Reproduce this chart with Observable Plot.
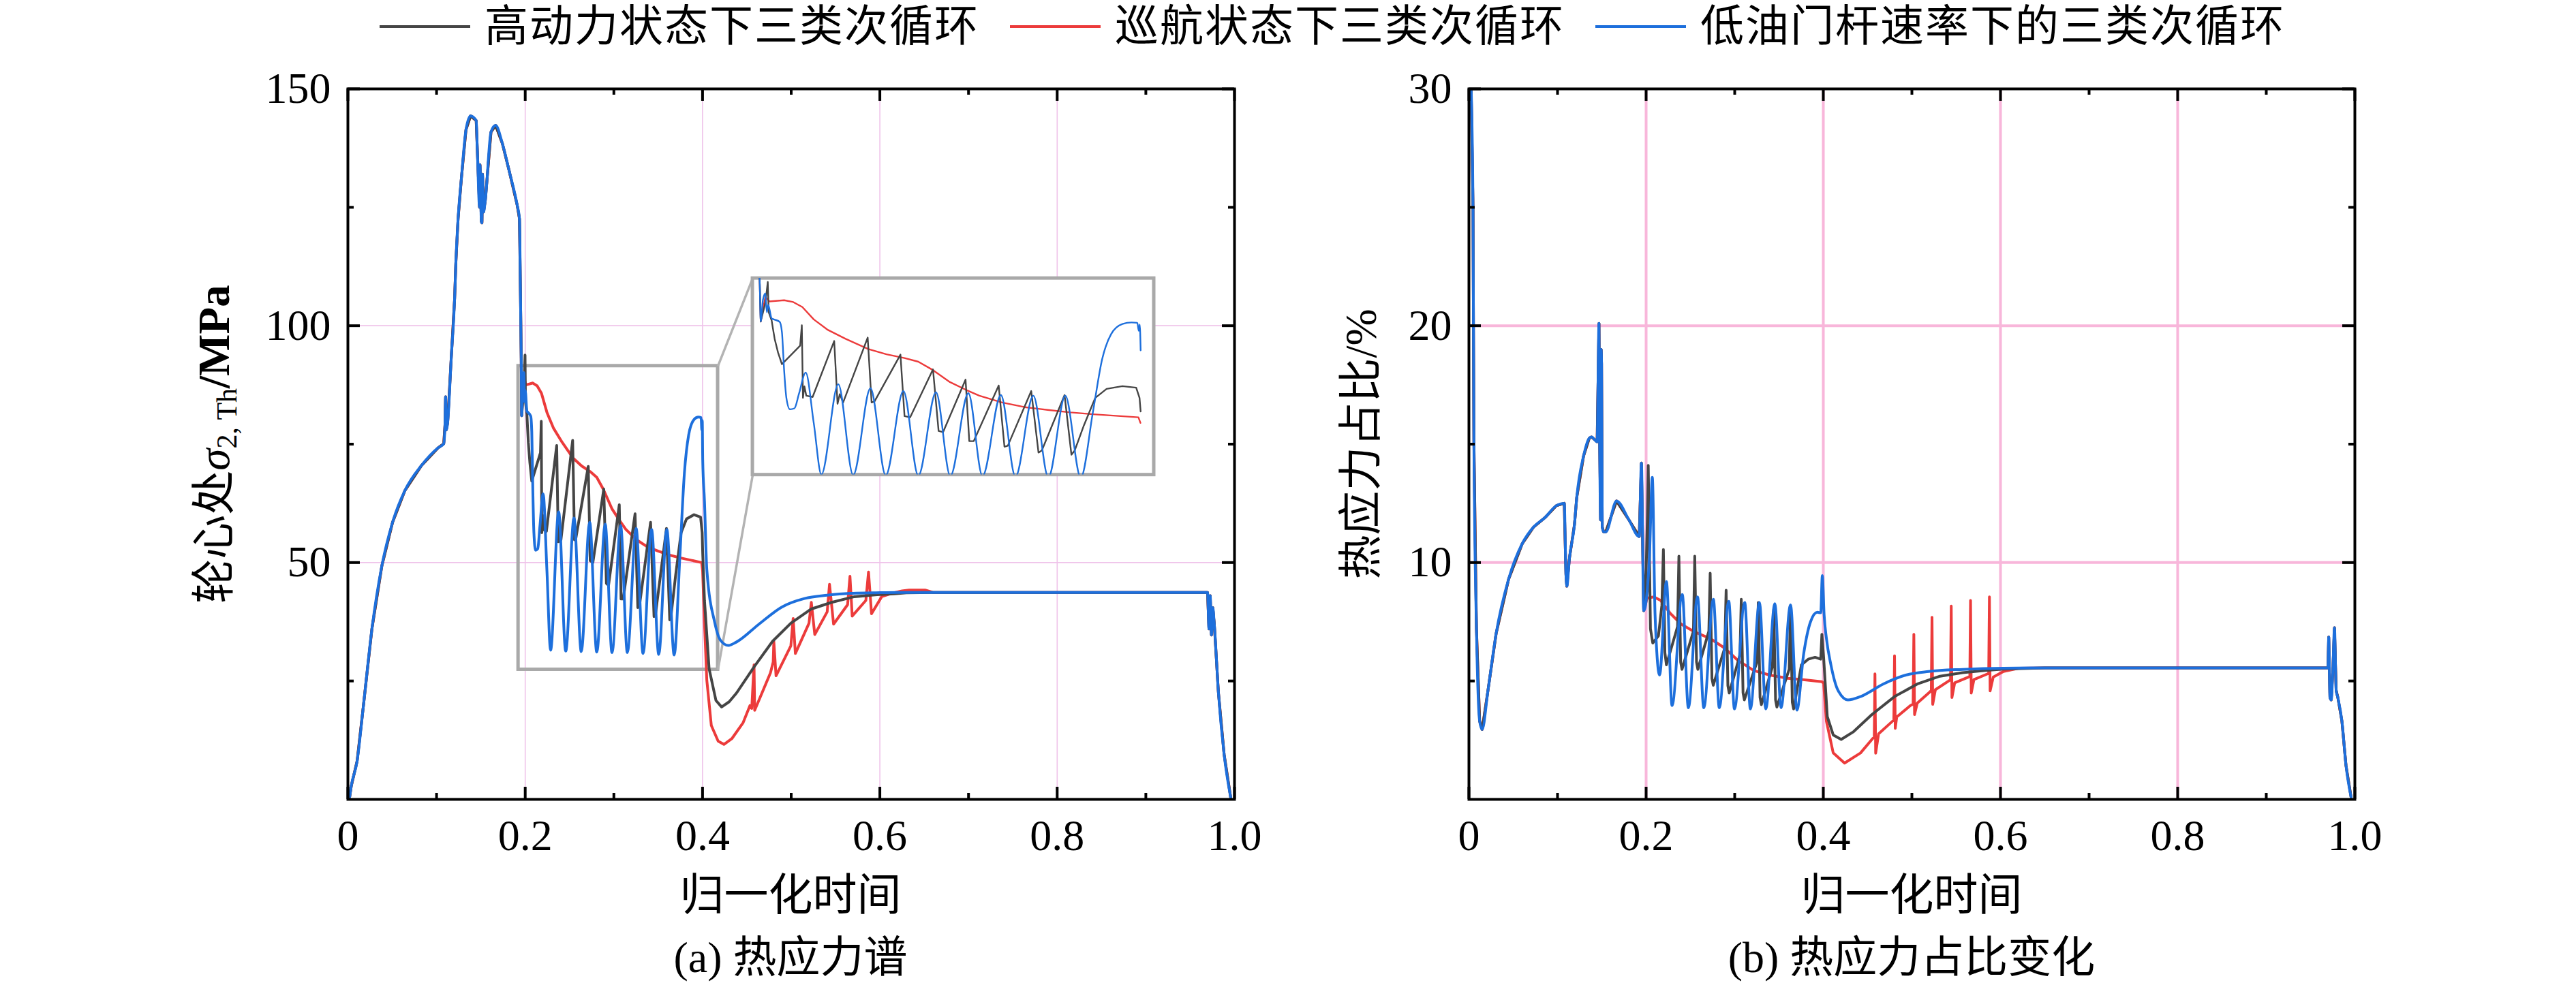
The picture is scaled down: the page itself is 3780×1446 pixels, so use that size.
<!DOCTYPE html>
<html>
<head>
<meta charset="utf-8">
<script src="https://cdn.jsdelivr.net/npm/d3@7"></script>
<script src="https://cdn.jsdelivr.net/npm/@observablehq/plot@0.6"></script>
<style>
html,body{margin:0;padding:0;background:#fff;}
#root{position:relative;width:3780px;height:1446px;overflow:hidden;background:#fff;font-family:"Liberation Serif","Noto Sans CJK SC",serif;color:#000;}
.abs{position:absolute;white-space:nowrap;line-height:1;}
.ctr{transform:translate(-50%,-50%);}
.rot{transform:translate(-50%,-50%) rotate(-90deg);}
</style>
</head>
<body>
<div id="root"></div>
<script>
// ---------------- data ----------------
const seriesNames = ["高动力状态下三类次循环", "巡航状态下三类次循环", "低油门杆速率下的三类次循环"];
const seriesColors = ["#454545", "#ec3b3b", "#1d6fdc"];

const xMajor = [0, 0.2, 0.4, 0.6, 0.8, 1.0];
const xMinor = [0.1, 0.3, 0.5, 0.7, 0.9];
const xGrid = [0.2, 0.4, 0.6, 0.8];

const stressTicks = [50, 100, 150];
const stressMinor = [25, 75, 125];
const stressGrid = [50, 100];
const ratioTicks = [10, 20, 30];
const ratioMinor = [5, 15, 25];
const ratioGrid = [10, 20];

// (a) thermal stress, MPa — common start and end (all three curves coincide)
const stressShared = [[0.002,0.5],[0.0038,2.8],[0.0104,8.1],[0.0177,20.1],[0.0271,36.0],[0.0383,49.3],[0.0504,58.5],[0.0643,65.2],[0.083,70.5],[0.1016,74.2],[0.1081,75.1],[0.1095,79],[0.1102,85],[0.1109,78],[0.1125,79.5],[0.1165,93],[0.1204,105.8],[0.1217,113.0],[0.1243,122.6],[0.1281,131.3],[0.1332,141.4],[0.1384,144.3],[0.1447,143.3],[0.146,137],[0.1485,125],[0.149,134],[0.1505,122],[0.1512,121.7],[0.1518,132],[0.153,124],[0.155,126.5],[0.1614,140.9],[0.1666,142.3],[0.1742,138.5],[0.1819,132.7],[0.1909,125.5],[0.1935,122.6],[0.1947,105.8]];
const stressTail = [[0.66,43.7],[0.9696,43.7],[0.9712,36],[0.9726,43],[0.974,34.7],[0.9755,40.5],[0.9772,37],[0.9818,22.7],[0.9883,9.5],[0.9957,0.4]];

const stressHigh = [[0.1955,93],[0.196,81],[0.1985,87],[0.1998,93.8],[0.2003,84],[0.2019,81.3],[0.2025,79],[0.2035,75.4],[0.2053,71.0],[0.2074,67.2],[0.2172,73.2],[0.2181,79.8],[0.2187,56.3],[0.2195,60],[0.2205,57],[0.2239,56.6],[0.2355,74.7],[0.2373,54.4],[0.2385,57.5],[0.2403,54.8],[0.2535,75.8],[0.2556,54.8],[0.2572,55.2],[0.2711,70.3],[0.2733,50.4],[0.2763,50.0],[0.2886,65.5],[0.2916,45.6],[0.294,45.2],[0.3061,62.2],[0.3081,42.3],[0.3105,42.3],[0.3239,60.3],[0.3270,40.5],[0.3288,40.8],[0.3414,58.5],[0.3453,38.6],[0.3471,39.3],[0.3593,57.2],[0.3630,37.9],[0.3648,39.3],[0.3697,47.4],[0.3758,56.3],[0.3819,59.2],[0.3904,60.1],[0.3978,59.6],[0.3996,56.3],[0.4002,51.9],[0.4022,42.0],[0.4074,27.6],[0.4151,20.9],[0.4215,19.5],[0.4300,20.6],[0.4381,22.4],[0.4586,28.1],[0.4791,33.4],[0.4996,37.2],[0.5227,40.2],[0.5457,41.6],[0.5713,42.8],[0.597,43.2],[0.6162,43.4],[0.63,43.6]];

const stressCruise = [[0.1955,93],[0.196,81],[0.1985,89],[0.2007,87.5],[0.2086,87.9],[0.2135,87.3],[0.2184,85.7],[0.2245,81.7],[0.2318,78.4],[0.2416,75.4],[0.2538,72.1],[0.2636,70.4],[0.2733,69.2],[0.2807,68.0],[0.2880,65.5],[0.2977,61.4],[0.3063,58.9],[0.3135,57.0],[0.3257,54.8],[0.3379,53.3],[0.3502,52.4],[0.3624,51.6],[0.3746,51.0],[0.3868,50.5],[0.3990,50.0],[0.4001,48.2],[0.4022,37.2],[0.4048,25.2],[0.4099,15.6],[0.4176,12.3],[0.4241,11.6],[0.433,12.8],[0.4458,16.2],[0.4535,19.8],[0.4555,19.2],[0.4575,26.5],[0.4581,28.4],[0.4588,18.8],[0.4766,26.7],[0.4797,29],[0.4804,33.4],[0.4829,26.1],[0.4996,32.4],[0.5022,38.2],[0.5047,30.8],[0.5201,37.2],[0.5227,41.6],[0.5266,34.8],[0.5406,39.6],[0.5432,45.4],[0.5478,37.0],[0.5636,41.1],[0.5663,47.1],[0.5688,38.7],[0.5842,42.0],[0.5872,48.0],[0.5906,39.2],[0.6021,42.8],[0.6149,43.6],[0.625,44.0],[0.633,44.2],[0.651,44.2]];

const stressLow = [[0.1955,93],[0.196,81],[0.1972,88],[0.1985,90.1],[0.1993,84],[0.2,86.4],[0.2019,82],[0.2031,81.7],[0.2062,80.9],[0.2074,77.6],[0.2086,65.1],[0.2098,56.3],[0.2117,52.6],[0.2141,52.9],[0.2166,57.7],[0.2202,64.5],[0.2245,48.2],[0.2286,31.5],[0.2377,60.7],[0.2457,31.3],[0.2550,59.4],[0.2632,31.2],[0.2727,58.5],[0.2807,31.1],[0.2902,58.1],[0.2979,31.0],[0.3076,57.8],[0.3152,31.0],[0.3251,57.2],[0.3329,30.8],[0.3425,57.0],[0.3506,30.6],[0.3597,57.0],[0.3680,30.5],[0.3746,51.9],[0.3795,68.8],[0.3843,76.9],[0.3904,80.2],[0.3953,80.7],[0.3984,80.6],[0.3992,78],[0.3997,80],[0.4002,71.7],[0.4022,62.9],[0.4048,48.6],[0.4138,37.3],[0.4202,33.6],[0.4291,32.5],[0.4381,33.2],[0.4637,37.0],[0.4894,40.6],[0.515,42.4],[0.5406,43.1],[0.5663,43.5],[0.5918,43.6],[0.62,43.7]];

// zoom box (source region), inset placement (in main-plot data units) and inset axis ranges
const zoomBoxX = [0.1923, 0.4174];
const zoomBoxY = [27.4, 91.5];
const insetPlaceX = [0.4566, 0.9093];
const insetPlaceY = [68.5, 110.0];
const insetDomainX = [0.1917, 0.4074];
const insetDomainY = [31.4, 95];
const insetCut = 0.4002;

// (b) share of thermal stress, %
const ratioShared = [[0.0025,30],[0.0046,25],[0.0056,15.2],[0.0085,7.2],[0.0121,3.3],[0.0149,2.95],[0.0215,4.6],[0.0307,7.0],[0.0448,9.3],[0.0602,10.8],[0.073,11.5],[0.0859,11.9],[0.0986,12.4],[0.1076,12.5],[0.1095,9.5],[0.1105,9.0],[0.1135,10.2],[0.1191,11.6],[0.1217,12.75],[0.1294,14.5],[0.1358,15.25],[0.1384,15.3],[0.1447,15.1],[0.1468,20.1],[0.1476,15],[0.1486,11.8],[0.1492,19],[0.1497,18.4],[0.1505,11.5],[0.152,11.3],[0.1545,11.3],[0.1666,12.6],[0.1806,11.8],[0.1922,11.1]];
const ratioTail = [[0.66,5.55],[0.9696,5.55],[0.9705,6.85],[0.9719,4.3],[0.9733,4.2],[0.9752,5.5],[0.977,7.25],[0.9789,4.6],[0.9808,4.3],[0.9854,3.3],[0.99,1.43],[0.9957,0.1]];

const ratioHigh = [[0.1947,14.2],[0.1973,7.97],[0.2,9.6],[0.2015,12],[0.2024,14.1],[0.2049,7.2],[0.2075,6.6],[0.2139,6.9],[0.2178,8.2],[0.2195,10.55],[0.2212,6.2],[0.2229,5.68],[0.2355,7.3],[0.2370,10.27],[0.2390,5.8],[0.2405,5.49],[0.2534,7.1],[0.2549,10.27],[0.2569,5.8],[0.2584,5.49],[0.2708,7.1],[0.2723,9.55],[0.2743,5.1],[0.2758,4.82],[0.2888,6.4],[0.2903,8.83],[0.2923,4.8],[0.2938,4.49],[0.3059,6.1],[0.3074,8.45],[0.3094,4.5],[0.3109,4.2],[0.3251,5.8],[0.3266,8.31],[0.3286,4.3],[0.3301,4.0],[0.3426,5.6],[0.3441,8.02],[0.3461,4.2],[0.3476,3.9],[0.3615,5.5],[0.3630,8.17],[0.3650,4.1],[0.3665,3.82],[0.3753,5.68],[0.3830,5.92],[0.3907,6.0],[0.3971,5.92],[0.3984,6.97],[0.4004,5.97],[0.4045,3.5],[0.4112,2.72],[0.4202,2.53],[0.4342,2.86],[0.4548,3.58],[0.4804,4.34],[0.506,4.87],[0.5316,5.2],[0.5572,5.35],[0.5828,5.44],[0.6033,5.5],[0.65,5.55]];

const ratioCruise = [[0.1947,14.2],[0.1973,7.97],[0.2011,8.5],[0.2088,8.55],[0.2165,8.4],[0.2267,7.88],[0.2395,7.4],[0.2549,7.07],[0.2728,6.78],[0.2882,6.4],[0.3036,5.87],[0.3215,5.44],[0.3395,5.25],[0.3599,5.11],[0.3753,5.06],[0.3984,4.97],[0.4004,4.9],[0.4035,3.3],[0.4112,1.96],[0.4240,1.53],[0.442,1.96],[0.4560,2.58],[0.4575,2.62],[0.4583,5.3],[0.4591,1.95],[0.4624,2.77],[0.4778,3.29],[0.4796,3.35],[0.4804,6.06],[0.4812,3.0],[0.4829,3.48],[0.4983,3.96],[0.5014,4.02],[0.5022,6.97],[0.5030,3.58],[0.506,4.06],[0.5201,4.53],[0.5219,4.6],[0.5227,7.69],[0.5235,4.01],[0.5265,4.63],[0.5419,5.01],[0.5436,5.05],[0.5444,8.16],[0.5452,4.3],[0.5483,4.92],[0.5636,5.16],[0.5654,5.2],[0.5662,8.4],[0.5670,4.49],[0.57,5.06],[0.5854,5.3],[0.5867,5.32],[0.5875,8.55],[0.5883,4.58],[0.5918,5.16],[0.6033,5.4],[0.6213,5.54],[0.65,5.55]];

const ratioLow = [[0.1947,14.2],[0.1973,7.97],[0.2037,10.2],[0.207,13.6],[0.2101,7.8],[0.2152,5.25],[0.2229,9.2],[0.2293,3.96],[0.2408,8.65],[0.2477,3.87],[0.2580,8.55],[0.2651,3.87],[0.2759,8.45],[0.2826,3.87],[0.2933,8.36],[0.2997,3.82],[0.3113,8.31],[0.3177,3.82],[0.3279,8.31],[0.3351,3.82],[0.3453,8.26],[0.3523,3.87],[0.3630,8.21],[0.3702,3.77],[0.3779,6.16],[0.3856,7.5],[0.3933,7.9],[0.3971,7.88],[0.3989,9.45],[0.4009,7.8],[0.4035,6.8],[0.4086,5.68],[0.4163,4.63],[0.4278,4.2],[0.442,4.34],[0.4676,4.87],[0.4932,5.25],[0.5188,5.4],[0.5572,5.49],[0.6033,5.54],[0.65,5.55]];

// ---------------- build ----------------
const root = document.getElementById("root");
const toRows = pairs => pairs.map(([x, y]) => ({x, y}));
const full = (shared, own, tail) => toRows(shared.concat(own, tail));

const stressSeries = [
  {data: full(stressShared, stressHigh, stressTail), color: seriesColors[0], curve: "linear"},
  {data: full(stressShared, stressCruise, stressTail), color: seriesColors[1], curve: "linear"},
  {data: full(stressShared, stressLow, stressTail), color: seriesColors[2], curve: "monotone-x"}
];
const ratioSeries = [
  {data: full(ratioShared, ratioCruise, ratioTail), color: seriesColors[1], curve: "linear"},
  {data: full(ratioShared, ratioHigh, ratioTail), color: seriesColors[0], curve: "linear"},
  {data: full(ratioShared, ratioLow, ratioTail), color: seriesColors[2], curve: "monotone-x"}
];
// draw order in (a): cruise under, then high, then low
const stressOrder = [stressSeries[1], stressSeries[0], stressSeries[2]];

const H = 1290, MT = 130, MB = 117;
const fmtX = d => d === 0 ? "0" : d.toFixed(1);

function makePanel(cfg) {
  const innerW = cfg.width - cfg.mL - cfg.mR;
  const innerH = H - MT - MB;
  const tk = {stroke: "#000", strokeWidth: 4};
  const lines = cfg.series.map(s => Plot.line(s.data, {x: "x", y: "y", stroke: s.color, strokeWidth: 4, curve: s.curve, clip: true}));
  return Plot.plot({
    width: cfg.width, height: H,
    marginLeft: cfg.mL, marginRight: cfg.mR, marginTop: MT, marginBottom: MB,
    x: {domain: [0, 1]},
    y: {domain: cfg.yDomain},
    style: {fontFamily: "'Liberation Serif','Times New Roman',serif", fontSize: "64px", color: "#000", background: "transparent", overflow: "visible"},
    marks: [
      Plot.gridX(xGrid, {stroke: cfg.gridColor, strokeOpacity: 1, strokeWidth: cfg.gridWidth}),
      Plot.gridY(cfg.yGrid, {stroke: cfg.gridColor, strokeOpacity: 1, strokeWidth: cfg.gridWidth}),
      ...(cfg.under || []),
      ...lines,
      Plot.frame({stroke: "#000", strokeWidth: 4}),
      Plot.tickX(xMajor, {x: d => d, insetTop: innerH - 18, ...tk}),
      Plot.tickX(xMajor, {x: d => d, insetBottom: innerH - 18, ...tk}),
      Plot.tickX(xMinor, {x: d => d, insetTop: innerH - 9, ...tk}),
      Plot.tickX(xMinor, {x: d => d, insetBottom: innerH - 9, ...tk}),
      Plot.tickY(cfg.yMajor, {y: d => d, insetRight: innerW - 18, ...tk}),
      Plot.tickY(cfg.yMajor, {y: d => d, insetLeft: innerW - 18, ...tk}),
      Plot.tickY(cfg.yMinor, {y: d => d, insetRight: innerW - 9, ...tk}),
      Plot.tickY(cfg.yMinor, {y: d => d, insetLeft: innerW - 9, ...tk}),
      Plot.axisX(xMajor, {tickSize: 0, tickPadding: 29, tickFormat: fmtX, label: null}),
      Plot.axisY(cfg.yMajor, {tickSize: 0, tickPadding: 25, tickFormat: d => String(d), label: null})
    ]
  });
}

// zoom decorations for (a)
const boxGray = "#a9a9a9";
const zoomRect = [{x1: zoomBoxX[0], x2: zoomBoxX[1], y1: zoomBoxY[0], y2: zoomBoxY[1]}];
const insetRect = [{x1: insetPlaceX[0], x2: insetPlaceX[1], y1: insetPlaceY[0], y2: insetPlaceY[1]}];
const connectors = [
  {x1: zoomBoxX[1], y1: zoomBoxY[1], x2: insetPlaceX[0], y2: insetPlaceY[1]},
  {x1: zoomBoxX[1], y1: zoomBoxY[0], x2: insetPlaceX[0], y2: insetPlaceY[0]}
];

const leftCfg = {
  width: 1890, mL: 510, mR: 79, yDomain: [0, 150],
  yMajor: stressTicks, yMinor: stressMinor, yGrid: stressGrid,
  gridColor: "#efc3ea", gridWidth: 1.6, series: stressOrder,
  under: [
    Plot.rect(zoomRect, {x1: "x1", x2: "x2", y1: "y1", y2: "y2", fill: "none", stroke: boxGray, strokeWidth: 5}),
    Plot.link(connectors, {x1: "x1", y1: "y1", x2: "x2", y2: "y2", stroke: "#b3b3b3", strokeWidth: 3.5}),
    Plot.rect(insetRect, {x1: "x1", x2: "x2", y1: "y1", y2: "y2", fill: "#fff", stroke: boxGray, strokeWidth: 5})
  ]
};
const rightCfg = {
  width: 1890, mL: 265, mR: 325, yDomain: [0, 30],
  yMajor: ratioTicks, yMinor: ratioMinor, yGrid: ratioGrid,
  gridColor: "#f8b6da", gridWidth: 4, series: ratioSeries
};

const leftChart = makePanel(leftCfg);
const rightChart = makePanel(rightCfg);
leftChart.style.position = "absolute"; leftChart.style.left = "0px"; leftChart.style.top = "0px";
rightChart.style.position = "absolute"; rightChart.style.left = "1890px"; rightChart.style.top = "0px";
root.appendChild(leftChart);
root.appendChild(rightChart);

// inset (magnified view) placed over the gray box, using the main chart's scales for position
function scaleOf(chart, name, dom, rng) {
  const s = chart.scale ? chart.scale(name) : null;
  if (s && typeof s.apply === "function") return v => s.apply(v);
  return d3.scaleLinear().domain(dom).range(rng);
}
const sxL = scaleOf(leftChart, "x", [0, 1], [leftCfg.mL, leftCfg.width - leftCfg.mR]);
const syL = scaleOf(leftChart, "y", leftCfg.yDomain, [H - MB, MT]);
const ix1 = sxL(insetPlaceX[0]), ix2 = sxL(insetPlaceX[1]);
const iyTop = syL(insetPlaceY[1]), iyBot = syL(insetPlaceY[0]);
const insetChart = Plot.plot({
  width: ix2 - ix1, height: iyBot - iyTop,
  margin: 0,
  x: {domain: insetDomainX, axis: null},
  y: {domain: insetDomainY, axis: null},
  style: {background: "transparent", overflow: "hidden"},
  marks: stressOrder.map(s => Plot.line(s.data.filter(d => d.x <= insetCut), {x: "x", y: "y", stroke: s.color, strokeWidth: 2.4, curve: s.curve, clip: true}))
});
insetChart.style.position = "absolute";
insetChart.style.left = ix1 + "px";
insetChart.style.top = iyTop + "px";
root.appendChild(insetChart);

// texts
function addText(html, x, y, size, cls) {
  const d = document.createElement("div");
  d.className = "abs " + cls;
  d.style.left = x + "px"; d.style.top = y + "px";
  d.style.fontSize = size + "px";
  d.innerHTML = html;
  root.appendChild(d);
  return d;
}
addText("归一化时间", 1160, 1314, 65, "ctr");
addText("归一化时间", 2805, 1314, 65, "ctr");
addText("(a) 热应力谱", 1160, 1406, 64, "ctr");
addText("(b) 热应力占比变化", 2805, 1406, 64, "ctr");
addText('轮心处<i>σ</i><sub style="font-size:42px;vertical-align:-0.25em;">2, Th</sub><b>/MPa</b>', 318, 652, 65, "rot");
addText("热应力占比/%", 1997, 652, 65, "rot");

// legend
const legend = document.createElement("div");
legend.style.cssText = "position:absolute;left:557px;top:4px;height:70px;display:flex;align-items:center;font-family:'Liberation Serif','Noto Sans CJK SC',serif;font-size:64px;letter-spacing:2px;white-space:nowrap;line-height:1;";
seriesNames.forEach((name, i) => {
  const ln = document.createElement("span");
  ln.style.cssText = `display:inline-block;width:133px;height:4px;background:${seriesColors[i]};margin-right:21px;`;
  const tx = document.createElement("span");
  tx.textContent = name;
  tx.style.marginRight = "45px";
  legend.appendChild(ln); legend.appendChild(tx);
});
root.appendChild(legend);
</script>
</body>
</html>
